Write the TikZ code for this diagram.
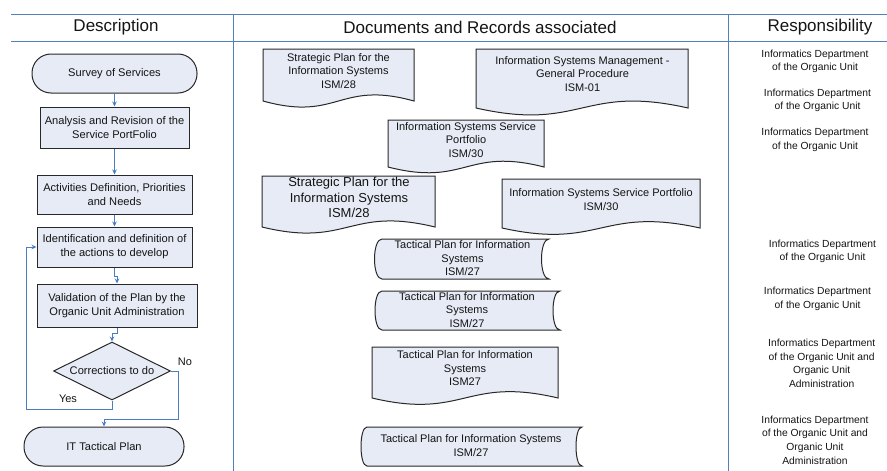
\documentclass[tikz,border=0pt]{standalone}
\usepackage{fontspec}
\setmainfont{Liberation Sans}
\usetikzlibrary{arrows.meta,shapes.geometric}
\definecolor{hdrblue}{RGB}{79,129,189}
\definecolor{flowblue}{RGB}{74,126,192}
\definecolor{boxfill}{RGB}{230,235,245}
\definecolor{boxline}{RGB}{40,40,40}
\definecolor{txt}{RGB}{20,20,20}
\tikzset{
  hdr/.style={draw=hdrblue, line width=1pt},
  hdrtext/.style={font=\fontsize{17}{20}\selectfont, text=txt, inner sep=0pt},
  procbox/.style={draw=boxline, fill=boxfill, line width=1pt, inner sep=0pt, align=center,
     font=\fontsize{11.1}{14}\selectfont, text=txt},
  termbox/.style={procbox, rounded corners=19pt},
  decbox/.style={procbox, diamond, aspect=2},
  shapebox/.style={draw=boxline, fill=boxfill, line width=1pt},
  doctext/.style={inner sep=0pt, align=center, font=\fontsize{11}{13.5}\selectfont, text=txt},
  bigdoctext/.style={inner sep=0pt, align=center, font=\fontsize{13}{15.8}\selectfont, text=txt},
  resptext/.style={inner sep=0pt, align=center, font=\fontsize{10.3}{13.6}\selectfont, text=txt},
  lbl/.style={inner sep=0pt, font=\fontsize{11}{13}\selectfont, text=txt},
  flow/.style={draw=flowblue, line width=1pt, -{Stealth[length=5pt,width=4.5pt]}},
}
% document shape: x1, ytop, x2, ybottom, wave amplitude
\newcommand\mydocshape[5]{%
  \draw[shapebox] (#1,#2) -- (#3,#2) -- (#3,#4)
    .. controls ({(#1+#3)/2},{#4-#5}) and ({(#1+#3)/2},{#4+#5}) .. (#1,#4) -- cycle;}
% stored data shape: xleft(top corner), ytop, xright(top corner), ybottom, bulge
\newcommand\mystoredshape[5]{%
  \draw[shapebox] (#1,#2) -- (#3,#2)
    .. controls ({#3-1.333*#5},#2) and ({#3-1.333*#5},#4) .. (#3,#4) -- (#1,#4)
    .. controls ({#1-1.333*#5},#4) and ({#1-1.333*#5},#2) .. (#1,#2) -- cycle;}
\begin{document}
\begin{tikzpicture}[x=1pt,y=-1pt]
\useasboundingbox (0,0) rectangle (887,471);
% header grid
\draw[hdr] (11,14) -- (887,14);
\draw[hdr] (11,41) -- (887,41);
\draw[hdr] (233,14) -- (233,471);
\draw[hdr] (728,14) -- (728,471);
\node[hdrtext] (hdesc) at (116,27) {Description};
\node[hdrtext] (hdocs) at (480,27) {Documents and Records associated};
\node[hdrtext] (hresp) at (820,27) {Responsibility};

% flowchart
\node[termbox, minimum width=165pt, minimum height=39pt] (survey) at (114.5,73.5) {Survey of Services};
\node[procbox, minimum width=149pt, minimum height=41pt] (analysis) at (114.5,127.5) {Analysis and Revision of the\\Service PortFolio};
\node[procbox, minimum width=155pt, minimum height=39pt] (activ) at (114.5,194.5) {Activities Definition, Priorities\\and Needs};
\node[procbox, minimum width=155pt, minimum height=40pt] (ident) at (114.5,247) {Identification and definition of\\the actions to develop};
\node[procbox, minimum width=160pt, minimum height=43pt] (valid) at (117,305.5) {Validation of the Plan by the\\Organic Unit Administration};
\node[decbox, minimum width=117pt, minimum height=58pt] (dec) at (112,371) {Corrections to do};
\node[termbox, minimum width=160pt, minimum height=39pt] (itplan) at (104,446.5) {IT Tactical Plan};
\node[lbl] (yes) at (68,399) {Yes};
\node[lbl] (no) at (185,362) {No};

\draw[flow] (survey) -- (analysis);
\draw[flow] (analysis) -- (activ);
\draw[flow] (activ) -- (ident);
\draw[flow] (ident.south) -- ++(0,9) -| (valid.north);
\draw[flow] (valid.south) -- ++(0,6) -| (dec.north);
\draw[flow] (dec.south) -- ++(0,9) -| ([xshift=-10pt]ident.west) -- (ident.west);
\draw[flow] (dec.east) -- ++(7,0) -- ++(0,48) -| (itplan.north);

% documents column
\mydocshape{263}{49}{414}{101}{21}
\node[doctext] (d1) at (338.5,71) {Strategic Plan for the\\Information Systems\\ISM/28};
\mydocshape{476}{49}{688}{108}{24}
\node[doctext] (d2) at (582.5,74) {Information Systems Management -\\General Procedure\\ISM-01};
\mydocshape{388}{120}{544}{167}{20}
\node[doctext] (d3) at (466,140) {Information Systems Service\\Portfolio\\ISM/30};
\mydocshape{262}{176}{435}{227}{21}
\node[bigdoctext] (d4) at (349,197.5) {Strategic Plan for the\\Information Systems\\ISM/28};
\mydocshape{502}{179}{700}{228}{22}
\node[doctext] (d5) at (601,199.5) {Information Systems Service Portfolio\\ISM/30};
\mystoredshape{382}{239}{549}{279}{7.5}
\node[doctext] (d6) at (462.5,258.5) {Tactical Plan for Information\\Systems\\ISM/27};
\mystoredshape{382}{291}{560}{330}{7}
\node[doctext] (d7) at (467,310) {Tactical Plan for Information\\Systems\\ISM/27};
\mydocshape{372}{347}{558}{398}{22}
\node[doctext] (d8) at (465,368.5) {Tactical Plan for Information\\Systems\\ISM27};
\mystoredshape{367}{427}{582}{466}{6}
\node[doctext] (d9) at (471,445.5) {Tactical Plan for Information Systems\\ISM/27};

% responsibility column
\node[resptext] (r1) at (815,61.5) {Informatics Department\\of the Organic Unit};
\node[resptext] (r2) at (817.5,100.5) {Informatics Department\\of the Organic Unit};
\node[resptext] (r3) at (815,140) {Informatics Department\\of the Organic Unit};
\node[resptext] (r4) at (822.5,251.5) {Informatics Department\\of the Organic Unit};
\node[resptext] (r5) at (817.5,299) {Informatics Department\\of the Organic Unit};
\node[resptext] (r6) at (821.7,363.5) {Informatics Department\\of the Organic Unit and\\Organic Unit\\Administration};
\node[resptext] (r7) at (815,440) {Informatics Department\\of the Organic Unit and\\Organic Unit\\Administration};
\end{tikzpicture}
\end{document}
